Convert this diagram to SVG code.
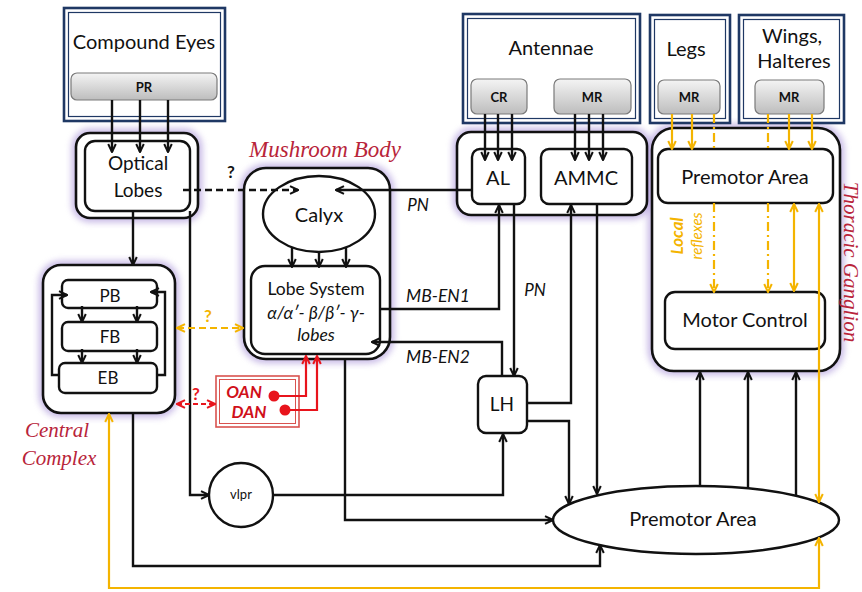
<svg xmlns="http://www.w3.org/2000/svg" width="862" height="592" viewBox="0 0 862 592">
<defs>
<style>
.t{font-family:Lato,"Liberation Sans",sans-serif;fill:#111;text-anchor:middle}
.b{font-weight:bold;font-size:13px}
.it{font-style:italic}
.scr{font-family:"Liberation Serif",serif;font-style:italic;fill:#b8243a;text-anchor:middle}
.in1{fill:#fff;stroke:#1f3864;stroke-width:2.6}
.in2{fill:none;stroke:#1f3864;stroke-width:1.2}
.btn{fill:url(#gr);stroke:#7a7a7a;stroke-width:1.2}
.glow{fill:none;stroke:#9d84d3;stroke-width:9;opacity:.55;filter:url(#bl)}
.grp{fill:#fff;stroke:#111;stroke-width:2.6}
.box{fill:#fff;stroke:#111;stroke-width:2.4}
.ln{fill:none;stroke:#111;stroke-width:2.4;marker-end:url(#ab)}
.yl{fill:none;stroke:#f4b400;stroke-width:2.2}
.ya{marker-end:url(#ay)}
.y2{marker-start:url(#ay);marker-end:url(#ay)}
.dd{stroke-dasharray:9 4 2 4}
.rl{fill:none;stroke:#e8141c;stroke-width:2.2;marker-end:url(#ar)}
.q{font-family:Lato,"Liberation Sans",sans-serif;font-size:17px;font-weight:bold;text-anchor:middle}
</style>
<linearGradient id="gr" x1="0" y1="0" x2="0" y2="1"><stop offset="0" stop-color="#f4f4f4"/><stop offset="1" stop-color="#bdbdbd"/></linearGradient>
<filter id="bl" x="-20%" y="-20%" width="140%" height="140%"><feGaussianBlur stdDeviation="3"/></filter>
<marker id="ab" viewBox="0 0 10 10" refX="9" refY="5" markerWidth="10" markerHeight="10" markerUnits="userSpaceOnUse" orient="auto-start-reverse"><path d="M1,1.2 L9,5 L1,8.8" fill="none" stroke="#111" stroke-width="2"/></marker>
<marker id="ay" viewBox="0 0 10 10" refX="9" refY="5" markerWidth="10" markerHeight="10" markerUnits="userSpaceOnUse" orient="auto-start-reverse"><path d="M1,1.2 L9,5 L1,8.8" fill="none" stroke="#f4b400" stroke-width="2"/></marker>
<marker id="ar" viewBox="0 0 10 10" refX="9" refY="5" markerWidth="10" markerHeight="10" markerUnits="userSpaceOnUse" orient="auto-start-reverse"><path d="M1,1.2 L9,5 L1,8.8" fill="none" stroke="#e8141c" stroke-width="2"/></marker>
</defs>
<rect width="862" height="592" fill="#fff"/>

<g id="glows">
<rect class="glow" x="76" y="133" width="122" height="85" rx="14"/>
<rect class="glow" x="244" y="168" width="146" height="191" rx="22"/>
<rect class="glow" x="43" y="265" width="132" height="148" rx="18"/>
<rect class="glow" x="457" y="132" width="190" height="83" rx="14"/>
<rect class="glow" x="652" y="128" width="188" height="243" rx="22"/>
</g>

<g id="compound-eyes">
<rect class="in1" x="64" y="8" width="161" height="113"/>
<rect class="in2" x="68.5" y="12.5" width="152" height="104"/>
<text class="t" x="144" y="49" font-size="20">Compound Eyes</text>
<rect class="btn" x="71" y="73" width="146" height="27" rx="6"/>
<text class="t b" x="144" y="92">PR</text>
</g>

<g id="antennae">
<rect class="in1" x="463" y="14" width="177" height="109"/>
<rect class="in2" x="467.5" y="18.5" width="168" height="100"/>
<text class="t" x="551" y="55" font-size="20">Antennae</text>
<rect class="btn" x="471" y="79" width="56" height="35" rx="6"/>
<text class="t b" x="499" y="102">CR</text>
<rect class="btn" x="554" y="79" width="77" height="35" rx="6"/>
<text class="t b" x="592" y="102">MR</text>
</g>

<g id="legs">
<rect class="in1" x="650" y="15" width="80" height="108"/>
<rect class="in2" x="654.5" y="19.5" width="71" height="99"/>
<text class="t" x="686" y="56" font-size="20">Legs</text>
<rect class="btn" x="658" y="80" width="62" height="34" rx="6"/>
<text class="t b" x="689" y="102">MR</text>
</g>

<g id="wings">
<rect class="in1" x="739" y="15" width="105" height="108"/>
<rect class="in2" x="743.5" y="19.5" width="96" height="99"/>
<text class="t" x="792" y="43" font-size="20">Wings,</text>
<text class="t" x="794" y="68" font-size="20">Halteres</text>
<rect class="btn" x="755" y="80" width="69" height="34" rx="6"/>
<text class="t b" x="789" y="102">MR</text>
</g>

<g id="optical-lobes">
<rect class="grp" x="76" y="133" width="122" height="85" rx="14"/>
<rect class="box" x="85" y="141" width="105" height="70" rx="10"/>
<text class="t" x="138" y="170" font-size="19">Optical</text>
<text class="t" x="138" y="197" font-size="19">Lobes</text>
</g>

<g id="mushroom-body">
<rect class="grp" x="244" y="168" width="146" height="191" rx="22"/>
<ellipse class="box" cx="319" cy="214" rx="56" ry="38"/>
<text class="t" x="319" y="222" font-size="20">Calyx</text>
<rect class="box" x="251" y="266" width="129" height="88" rx="14"/>
<text class="t" x="316" y="295" font-size="17.5">Lobe System</text>
<text class="t it" x="316" y="319" font-size="17.5">α/α′- β/β′- γ-</text>
<text class="t it" x="316" y="341" font-size="17.5">lobes</text>
<text class="scr" x="325" y="157" font-size="23">Mushroom Body</text>
</g>

<g id="antennal-centres">
<rect class="grp" x="457" y="132" width="190" height="83" rx="14"/>
<rect class="box" x="472" y="149" width="53" height="55" rx="8"/>
<text class="t" x="498" y="185" font-size="20">AL</text>
<rect class="box" x="541" y="149" width="91" height="55" rx="8"/>
<text class="t" x="586" y="185" font-size="20">AMMC</text>
</g>

<g id="thoracic-ganglion">
<rect class="grp" x="652" y="128" width="188" height="243" rx="22"/>
<rect class="box" x="658" y="149" width="175" height="54" rx="10"/>
<text class="t" x="745" y="184" font-size="20">Premotor Area</text>
<rect class="box" x="665" y="292" width="160" height="57" rx="10"/>
<text class="t" x="745" y="327" font-size="20">Motor Control</text>
<text class="scr" transform="translate(844,262) rotate(90)" font-size="21">Thoracic Ganglion</text>
</g>

<g id="central-complex">
<rect class="grp" x="43" y="265" width="132" height="148" rx="18"/>
<rect class="box" x="62" y="280" width="95" height="28" rx="6"/>
<text class="t" x="110" y="302" font-size="17">PB</text>
<rect class="box" x="62" y="322" width="95" height="29" rx="6"/>
<text class="t" x="110" y="343" font-size="17">FB</text>
<rect class="box" x="59" y="363" width="98" height="30" rx="6"/>
<text class="t" x="108" y="384" font-size="17">EB</text>
<text class="scr" x="57" y="437" font-size="21">Central</text>
<text class="scr" x="59" y="465" font-size="21">Complex</text>
</g>

<g id="oan-dan">
<rect x="216" y="376" width="83" height="51" fill="#fff" stroke="#d9534f" stroke-width="1.6"/>
<rect x="219.5" y="379.5" width="76" height="44" fill="none" stroke="#d9534f" stroke-width="1"/>
<text x="244" y="398" font-family="Lato,'Liberation Sans',sans-serif" font-size="17" font-weight="bold" font-style="italic" fill="#d0101a" text-anchor="middle">OAN</text>
<text x="249" y="418" font-family="Lato,'Liberation Sans',sans-serif" font-size="17" font-weight="bold" font-style="italic" fill="#d0101a" text-anchor="middle">DAN</text>
<circle cx="274" cy="396" r="5.5" fill="#e8141c"/>
<circle cx="285" cy="410" r="5.5" fill="#e8141c"/>
</g>

<g id="vlpr">
<circle class="box" cx="241" cy="495" r="32"/>
<text class="t" x="241" y="499" font-size="13">vlpr</text>
</g>

<g id="lh">
<rect class="box" x="478" y="376" width="49" height="57" rx="8"/>
<text class="t" x="502" y="411" font-size="19">LH</text>
</g>

<g id="premotor-area">
<ellipse class="box" cx="696" cy="520" rx="143" ry="34"/>
<text class="t" x="693" y="526" font-size="20">Premotor Area</text>
</g>

<g id="connectors">
<path class="ln" d="M112,100 V152"/>
<path class="ln" d="M140,100 V152"/>
<path class="ln" d="M168,100 V152"/>
<path class="ln" d="M485,114 V160"/>
<path class="ln" d="M498,114 V160"/>
<path class="ln" d="M512,114 V160"/>
<path class="ln" d="M575,114 V160"/>
<path class="ln" d="M589,114 V160"/>
<path class="ln" d="M603,114 V160"/>
<path class="ln" stroke-dasharray="7 4" d="M183,190 H298"/>
<text class="q" x="231" y="178" fill="#111">?</text>
<path class="ln" d="M472,190 H336"/>
<text class="t it" x="418" y="211" font-size="17">PN</text>
<path class="ln" d="M292,247 V267"/>
<path class="ln" d="M319,252 V267"/>
<path class="ln" d="M346,247 V267"/>
<path class="ln" d="M133,211 V265"/>
<path class="ln" d="M82,306 V322"/>
<path class="ln" d="M137,306 V322"/>
<path class="ln" d="M82,349 V363"/>
<path class="ln" d="M137,349 V363"/>
<path class="ln" d="M59,375 H52 V295 H67"/>
<path class="ln" d="M157,375 H165 V292 H151"/>
<path class="ln" d="M190,211 V495 H209"/>
<path class="ln" d="M273,495 H503 V434"/>
<path class="ln" d="M380,309 H499 V205"/>
<text class="t it" x="438" y="302" font-size="17.5">MB-EN1</text>
<path class="ln" d="M502,376 V342 H372"/>
<text class="t it" x="438" y="363" font-size="17.5">MB-EN2</text>
<path class="ln" d="M514,204 V376"/>
<text class="t it" x="535" y="296" font-size="17">PN</text>
<path class="ln" d="M527,403 H571 V205"/>
<path class="ln" d="M527,421 H569 V504"/>
<path class="ln" d="M597,204 V494"/>
<path class="ln" d="M345,359 V520 H553"/>
<path class="ln" d="M133,413 V566 H600 V545"/>
<path class="ln" d="M700,486 V372"/>
<path class="ln" d="M748,488 V372"/>
<path class="ln" d="M796,495 V372"/>
<path class="yl ya" d="M672,114 V149"/>
<path class="yl ya" d="M692,114 V149"/>
<path class="yl ya" d="M789,114 V149"/>
<path class="yl ya" d="M812,114 V149"/>
<path class="yl dd" d="M714,114 V149 M768,114 V149"/>
<path class="yl dd ya" d="M714,203 V292"/>
<path class="yl dd ya" d="M768,203 V292"/>
<path class="yl y2" d="M794,204 V291"/>
<path class="yl y2" d="M819,204 V502"/>
<path class="yl y2" d="M109,414 V588 H819 V538"/>
<path class="yl y2" stroke-dasharray="7 4" d="M177,328 H243"/>
<text class="q" x="208" y="322" fill="#f4b400">?</text>
<text transform="translate(683,236) rotate(-90)" font-family="Lato,'Liberation Sans',sans-serif" font-size="17" font-weight="bold" font-style="italic" fill="#f4b400" text-anchor="middle">Local</text>
<text transform="translate(702,236) rotate(-90)" font-family="Lato,'Liberation Sans',sans-serif" font-size="15" font-style="italic" fill="#f4b400" text-anchor="middle">reflexes</text>
<path class="rl" stroke-dasharray="5 3" marker-start="url(#ar)" d="M177,404 H215"/>
<text class="q" x="196" y="400" fill="#e8141c">?</text>
<path class="rl" d="M274,396 H306 V356"/>
<path class="rl" d="M285,410 H317 V356"/>
</g>
</svg>
